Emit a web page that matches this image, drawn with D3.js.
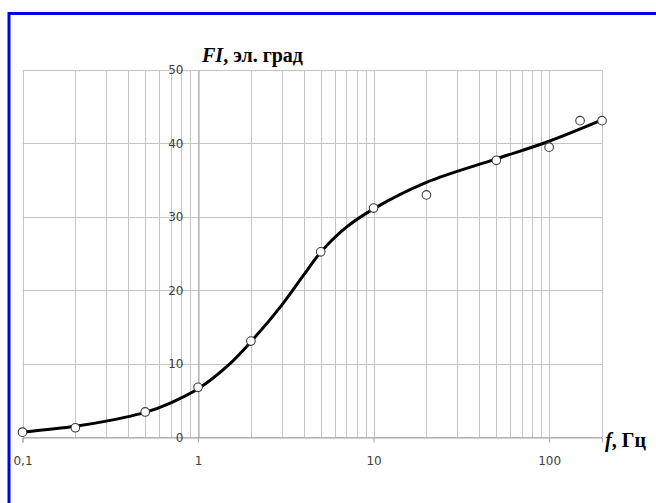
<!DOCTYPE html>
<html>
<head>
<meta charset="utf-8">
<script src="https://cdn.jsdelivr.net/npm/d3@7"></script>
<style>
  html, body { margin: 0; padding: 0; background: #fff; }
  svg { display: block; }
</style>
</head>
<body>
<svg id="chart" width="656" height="503"></svg>
<script>
// Data
const freqs    = [0.1, 0.2, 0.5, 1, 2, 5, 10, 20, 50, 100, 150, 200];
const fiValues = [0.7, 1.3, 3.45, 6.8, 13.1, 25.25, 31.2, 33.0, 37.7, 39.5, 43.1, 43.1];

// Smooth trend curve
const curveF  = [0.1, 0.2, 0.3, 0.5, 0.7, 1, 1.5, 2, 3, 4, 5, 7, 10, 20, 50, 100, 200];
const curveFI = [0.7, 1.5, 2.2, 3.4, 4.7, 6.6, 9.9, 13.0, 18.0, 22.1, 25.2, 28.6, 31.1, 34.7, 37.9, 40.3, 43.2];

const xTickValues = [0.1, 1, 10, 100];
const xTickLabels = ["0,1", "1", "10", "100"];
const yTickValues = [0, 10, 20, 30, 40, 50];
const yTitle = "эл. град";
const xTitle = "Гц";

const svg = d3.select("#chart");
const W = 656, H = 503;

// Blue frame (right and bottom edges lie outside the picture)
svg.append("rect")
  .attr("x", 9).attr("y", 13.5)
  .attr("width", W + 20).attr("height", H + 20)
  .attr("fill", "#fff")
  .attr("stroke", "#0000ee").attr("stroke-width", 3);

const x = d3.scaleLog().domain([0.1, 200]).range([22.5, 602]);
const y = d3.scaleLinear().domain([0, 50]).range([437.3, 70]);

const gridColor = "#c4c4c4";

// minor + major vertical gridlines
const vLines = [];
[0.1, 1, 10, 100].forEach(d => { for (let k = 1; k <= 9; k++) { const v = d * k; if (v <= 200.0001) vLines.push(v); } });
vLines.push(200);
svg.append("g").selectAll("line").data(vLines).join("line")
  .attr("x1", d => Math.round(x(d)) + 0.5).attr("x2", d => Math.round(x(d)) + 0.5)
  .attr("y1", y(50)).attr("y2", y(0))
  .attr("stroke", gridColor).attr("stroke-width", 1);

// horizontal gridlines
svg.append("g").selectAll("line").data(yTickValues).join("line")
  .attr("x1", x(0.1)).attr("x2", x(200))
  .attr("y1", d => Math.round(y(d)) + 0.5).attr("y2", d => Math.round(y(d)) + 0.5)
  .attr("stroke", gridColor).attr("stroke-width", 1);

// X axis at y=0
const xAxis = d3.axisBottom(x).tickValues(xTickValues)
  .tickFormat((d, i) => xTickLabels[i]).tickSize(5).tickPadding(14);
const gx = svg.append("g").attr("transform", `translate(0,${Math.round(y(0)) + 0.5})`).call(xAxis);
gx.select(".domain").attr("stroke", "#a6a6a6");
gx.selectAll(".tick line").attr("stroke", "#a6a6a6");
gx.selectAll("text").attr("font-family", "DejaVu Sans").attr("font-size", 12).attr("fill", "#404040");

// Y axis crossing at f=1
const yAxis = d3.axisLeft(y).tickValues(yTickValues).tickSize(0).tickPadding(15);
const gy = svg.append("g").attr("transform", `translate(${Math.round(x(1)) + 0.5},0)`).call(yAxis);
gy.select(".domain").attr("stroke", "#a6a6a6");
gy.selectAll("text").attr("font-family", "DejaVu Sans").attr("font-size", 12).attr("fill", "#404040");

// trend curve
const line = d3.line().x((d, i) => x(curveF[i])).y(d => y(d)).curve(d3.curveCatmullRom.alpha(0.5));
svg.append("path").datum(curveFI)
  .attr("d", line).attr("fill", "none")
  .attr("stroke", "#000").attr("stroke-width", 3).attr("stroke-linejoin", "round");

// data markers
svg.append("g").selectAll("circle").data(fiValues).join("circle")
  .attr("cx", (d, i) => x(freqs[i])).attr("cy", d => y(d)).attr("r", 4.3)
  .attr("fill", "#fff").attr("stroke", "#3a3a3a").attr("stroke-width", 1.1);

// Axis titles
const yt = svg.append("text").attr("x", 202).attr("y", 62)
  .attr("font-family", "Liberation Serif").attr("font-weight", "bold").attr("font-size", 20).attr("fill", "#000");
yt.append("tspan").attr("font-style", "italic").text("FI");
yt.append("tspan").text(", " + yTitle);

const xt = svg.append("text").attr("x", 605).attr("y", 447)
  .attr("font-family", "Liberation Serif").attr("font-weight", "bold").attr("font-size", 20).attr("fill", "#000");
xt.append("tspan").attr("font-style", "italic").text("f");
xt.append("tspan").text(", " + xTitle);
</script>
</body>
</html>
